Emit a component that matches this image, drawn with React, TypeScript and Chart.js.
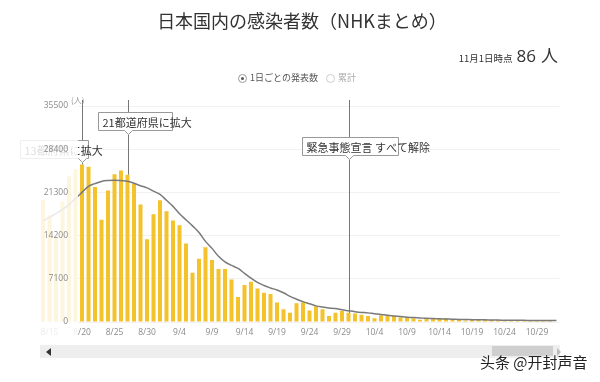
import React, { useEffect, useRef } from "react";
import { Chart, registerables } from "chart.js";
Chart.register(...registerables);

const dates = [
  "8/14","8/15","8/16","8/17","8/18","8/19","8/20","8/21","8/22","8/23","8/24","8/25","8/26","8/27","8/28","8/29","8/30","8/31",
  "9/1","9/2","9/3","9/4","9/5","9/6","9/7","9/8","9/9","9/10","9/11","9/12","9/13","9/14","9/15","9/16","9/17","9/18","9/19","9/20",
  "9/21","9/22","9/23","9/24","9/25","9/26","9/27","9/28","9/29","9/30",
  "10/1","10/2","10/3","10/4","10/5","10/6","10/7","10/8","10/9","10/10","10/11","10/12","10/13","10/14","10/15","10/16","10/17",
  "10/18","10/19","10/20","10/21","10/22","10/23","10/24","10/25","10/26","10/27","10/28","10/29","10/30","10/31","11/1",
];

const dailyCases = [
  20100, 17500, 14100, 19800, 23900, 25100, 25900, 25500, 22200, 16800, 21600, 24300, 24900, 24200, 22700, 19300, 13600, 17700,
  20000, 18200, 16700, 15900, 12900, 8100, 10400, 12300, 10200, 8700, 8700, 7000, 4100, 6100, 6600, 5500, 4800, 4600, 3200, 2100,
  1500, 3100, 3250, 1900, 2600, 2100, 1000, 1500, 1800, 1500,
  1400, 1200, 1000, 600, 1100, 1100, 1000, 800, 760, 600, 370, 600, 650, 620, 600, 500, 430,
  230, 390, 390, 350, 330, 300, 270, 150, 290, 320, 260, 280, 260, 230, 86,
];

const weeklyAverage = [
  16600, 17200, 17800, 18500, 19300, 20300, 21300, 22300, 22750, 23100, 23250, 23300, 23250, 23150, 22800, 22400, 22050, 21500,
  20970, 20000, 19000, 17800, 16800, 15800, 14700, 13250, 12100, 10800, 9900, 9300, 8800, 8000, 7200, 6500, 6000, 5600, 5250, 4800,
  4200, 3750, 3350, 3000, 2650, 2450, 2300, 2200, 2000, 1850,
  1700, 1580, 1500, 1350, 1250, 1100, 1000, 900, 800, 720, 660, 600, 560, 520, 490, 460, 430,
  410, 390, 370, 350, 330, 310, 300, 290, 280, 270, 260, 255, 250, 245, 230,
];

const yTicks = [0, 7100, 14200, 21300, 28400, 35500];

const eventDates = ["8/20", "8/27", "9/30"];
const eventLabels = ["13都府県に拡大", "21都道府県に拡大", "緊急事態宣言 すべて解除"];

// layout for annotation boxes (offsets relative to the event line / chart top)
const ANNOT_LAYOUT = [
  { left: -62, right: 6, top: 34 },
  { left: -30, right: 44, top: 6 },
  { left: -47, right: 49, top: 31 },
];

const annotPlugin = {
  id: "annotOverlay",
  afterDatasetsDraw(chart: any) {
    const ctx = chart.ctx;
    const xs = chart.scales.x;
    const ys = chart.scales.y;
    const top = chart.chartArea.top;
    ctx.save();
    eventDates.forEach((d, k) => {
      const idx = dates.indexOf(d);
      const x = Math.round(xs.getPixelForValue(idx)) + 0.5;
      const yBar = ys.getPixelForValue(dailyCases[idx]);
      const L = ANNOT_LAYOUT[k];
      const boxTop = top + L.top + 0.5;
      const boxBottom = boxTop + 18;
      const left = x + L.left;
      const right = x + L.right;
      ctx.strokeStyle = "#777";
      ctx.lineWidth = 1;
      ctx.beginPath();
      ctx.moveTo(x, top - 6);
      ctx.lineTo(x, boxTop);
      ctx.moveTo(x, boxBottom + 4);
      ctx.lineTo(x, yBar);
      ctx.stroke();
      ctx.fillStyle = "#fff";
      ctx.strokeStyle = "#999";
      ctx.beginPath();
      ctx.moveTo(left, boxTop);
      ctx.lineTo(right, boxTop);
      ctx.lineTo(right, boxBottom);
      ctx.lineTo(x + 4, boxBottom);
      ctx.lineTo(x, boxBottom + 4);
      ctx.lineTo(x - 4, boxBottom);
      ctx.lineTo(left, boxBottom);
      ctx.closePath();
      ctx.fill();
      ctx.stroke();
      ctx.fillStyle = "#333";
      ctx.font = "11px 'Noto Sans CJK JP', sans-serif";
      ctx.textBaseline = "middle";
      ctx.textAlign = "left";
      ctx.fillText(eventLabels[k], left + 4, (boxTop + boxBottom) / 2 + 1);
    });
    // translucent overlay at the scrolled-out left edge
    ctx.fillStyle = "rgba(255,255,255,0.84)";
    ctx.fillRect(0, top - 14, 78, chart.chartArea.bottom - top + 34);
    ctx.restore();
  },
  afterDraw(chart: any) {
    const ctx = chart.ctx;
    ctx.save();
    ctx.fillStyle = "#999";
    ctx.font = "8px 'Noto Sans CJK JP', sans-serif";
    ctx.textAlign = "left";
    ctx.textBaseline = "middle";
    ctx.fillText("(人)", 71, chart.chartArea.top - 6);
    ctx.restore();
  },
};

export default function App() {
  const ref = useRef<HTMLCanvasElement>(null);
  useEffect(() => {
    document.body.style.margin = "0";
    const chart = new Chart(ref.current as HTMLCanvasElement, {
      type: "bar",
      data: {
        labels: dates,
        datasets: [
          {
            type: "line",
            data: weeklyAverage,
            borderColor: "#7a7a7a",
            borderWidth: 1.5,
            pointRadius: 0,
            tension: 0.4,
            order: 0,
          } as any,
          {
            type: "bar",
            data: dailyCases,
            backgroundColor: "#f3c22c",
            barPercentage: 0.62,
            categoryPercentage: 1,
            order: 1,
          },
        ],
      },
      options: {
        responsive: false,
        animation: false,
        devicePixelRatio: 1,
        layout: { padding: { left: 39.75, right: 40.25, top: 106, bottom: 40 } },
        plugins: { legend: { display: false }, tooltip: { enabled: false } },
        scales: {
          x: {
            grid: { display: false, drawTicks: false },
            border: { display: false },
            afterFit: (s: any) => { s.height = 20; },
            ticks: {
              autoSkip: false,
              maxRotation: 0,
              padding: 5,
              color: "#8a8a8a",
              font: { size: 8.5, family: "'Open Sans', sans-serif" },
              callback: (_v: any, i: number) => ((i - 1) % 5 === 0 ? dates[i] : ""),
            },
          },
          y: {
            min: yTicks[0],
            max: yTicks[yTicks.length - 1],
            afterFit: (s: any) => { s.width = 0; },
            afterBuildTicks: (s: any) => { s.ticks = yTicks.map((v) => ({ value: v })); },
            grid: { color: "#f1f1f1", drawTicks: false },
            border: { display: false },
            ticks: {
              mirror: true,
              crossAlign: "far",
              padding: 4,
              z: 1,
              color: "#8a8a8a",
              font: { size: 8.5, family: "'Open Sans', sans-serif" },
              callback: (v: any) => String(v),
            },
          },
        },
      },
      plugins: [annotPlugin],
    });
    return () => chart.destroy();
  }, []);

  const jp = "'Noto Sans CJK JP', 'Noto Sans', sans-serif";
  return (
    <div style={{ position: "absolute", left: 0, top: 0, width: 600, height: 382, background: "#fff", overflow: "hidden", fontFamily: jp }}>
      <canvas ref={ref} width={600} height={382} style={{ position: "absolute", left: 0, top: 0, width: 600, height: 382 }} />
      <div style={{ position: "absolute", left: 0, top: 8, width: 604, textAlign: "center", fontSize: 18, lineHeight: "24px", color: "#333" }}>
        日本国内の感染者数（NHKまとめ）
      </div>
      <div style={{ position: "absolute", right: 42, top: 42, display: "flex", alignItems: "baseline", color: "#333", whiteSpace: "nowrap" }}>
        <span style={{ fontSize: 9.5 }}>11月1日時点</span>
        <span style={{ fontSize: 17, marginLeft: 4, fontFamily: "'Open Sans', sans-serif" }}>86</span>
        <span style={{ fontSize: 17, marginLeft: 5 }}>人</span>
      </div>
      <div style={{ position: "absolute", left: 238, top: 71, display: "flex", alignItems: "center", fontSize: 9, lineHeight: "14px", whiteSpace: "nowrap" }}>
        <span style={{ width: 9, height: 9, borderRadius: "50%", border: "1px solid #999", display: "inline-flex", alignItems: "center", justifyContent: "center", boxSizing: "border-box" }}>
          <span style={{ width: 3, height: 3, borderRadius: "50%", background: "#555" }} />
        </span>
        <span style={{ color: "#555", marginLeft: 3 }}>1日ごとの発表数</span>
        <span style={{ width: 9, height: 9, borderRadius: "50%", border: "1px solid #ccc", boxSizing: "border-box", marginLeft: 8 }} />
        <span style={{ color: "#aaa", marginLeft: 3 }}>累計</span>
      </div>
      <div style={{ position: "absolute", left: 40, top: 345, width: 520, height: 13, background: "#eeeeee" }} />
      <div style={{ position: "absolute", left: 492, top: 346, width: 61, height: 10, background: "#cfcfcf" }} />
      <div style={{ position: "absolute", left: 46, top: 348, width: 0, height: 0, borderTop: "4px solid transparent", borderBottom: "4px solid transparent", borderRight: "5px solid #333" }} />
      <div style={{ position: "absolute", left: 557, top: 348, width: 0, height: 0, borderTop: "4px solid transparent", borderBottom: "4px solid transparent", borderLeft: "4px solid #bbb" }} />
      <div style={{ position: "absolute", left: 480, top: 353, fontSize: 15, lineHeight: "18px", color: "#222", fontFamily: "'Noto Sans CJK SC', sans-serif", textShadow: "0 0 2px #fff", whiteSpace: "nowrap" }}>
        头条 @开封声音
      </div>
    </div>
  );
}
